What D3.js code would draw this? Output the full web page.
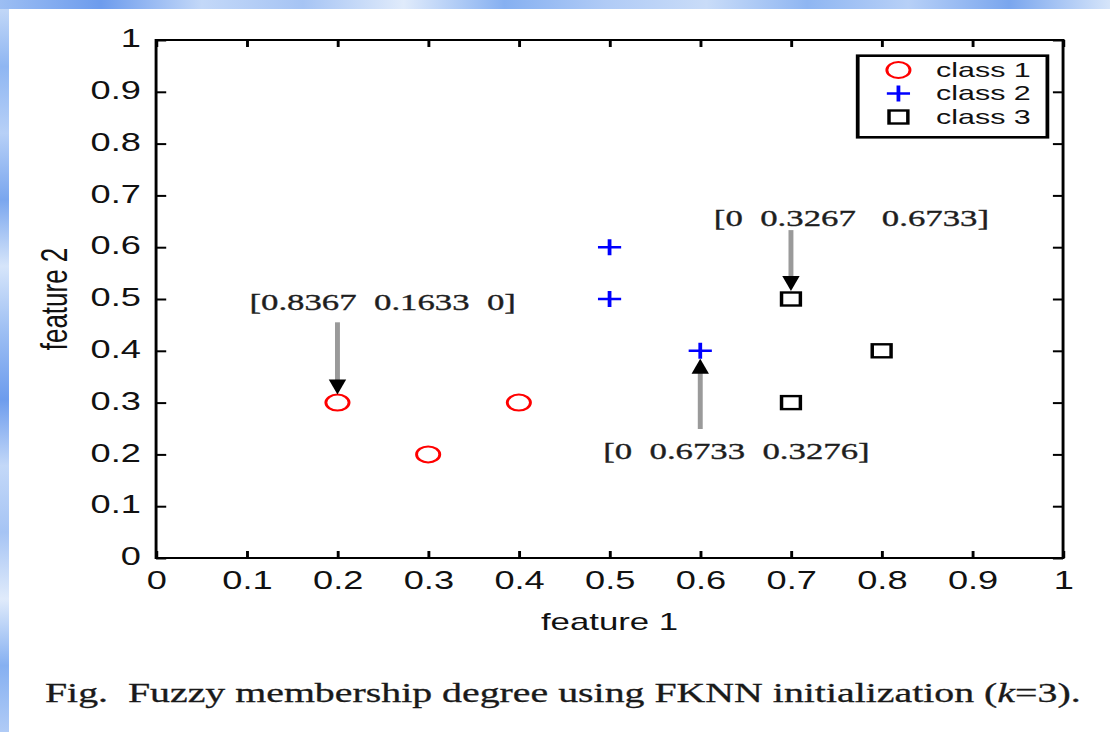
<!DOCTYPE html>
<html>
<head>
<meta charset="utf-8">
<script src="https://cdn.jsdelivr.net/npm/d3@7"></script>
<style>
  html, body { margin: 0; padding: 0; background: #fff; }
  svg { display: block; }
  .tick text { fill: #111; }
</style>
</head>
<body>
<div id="chart"></div>
<script>
// DATA
const xTicks = [0, 0.1, 0.2, 0.3, 0.4, 0.5, 0.6, 0.7, 0.8, 0.9, 1]
const yTicks = [0, 0.1, 0.2, 0.3, 0.4, 0.5, 0.6, 0.7, 0.8, 0.9, 1]
const classNames = ['class 1', 'class 2', 'class 3']
const class1X = [0.2, 0.3, 0.4]
const class1Y = [0.3, 0.2, 0.3]
const class2X = [0.5, 0.5, 0.6]
const class2Y = [0.6, 0.5, 0.4]
const class3X = [0.7, 0.7, 0.8]
const class3Y = [0.5, 0.3, 0.4]
// annotations: membership vectors, the point they point to, where the text sits (data units)
const annLabels = ['[0.8367  0.1633  0]', '[0  0.3267   0.6733]', '[0  0.6733  0.3276]']
const annPointX = [0.2, 0.7, 0.6]
const annPointY = [0.3, 0.5, 0.4]
const annTextX = [0.103, 0.615, 0.493]
const annTextY = [0.479, 0.641, 0.191]
const annTailY = [0.455, 0.633, 0.249]
const caption = ['Fig.  Fuzzy membership degree using FKNN initialization (', 'k', '=3).']

// CANVAS (the figure is stretched horizontally, like the picture)
const fullWidth = 1110
const fullHeight = 732
const viewWidth = 766
const margins = { left: 107.7, right: 32.4, top: 40, bottom: 174 }

const svg = d3.select('#chart')
  .append('svg')
  .attr('width', fullWidth)
  .attr('height', fullHeight)
  .attr('viewBox', `0 0 ${viewWidth} ${fullHeight}`)
  .attr('preserveAspectRatio', 'none')

// blue page texture on the top and left edges
const defs = svg.append('defs')
const gLeft = defs.append('linearGradient').attr('id', 'edgeLeft')
  .attr('x1', 0).attr('y1', 0).attr('x2', 0).attr('y2', 1)
const gTop = defs.append('linearGradient').attr('id', 'edgeTop')
  .attr('x1', 0).attr('y1', 0).attr('x2', 1).attr('y2', 0)
const edgeColors = ['#c9dcf8', '#8fb6f2', '#b7d0f7', '#7aa6ee', '#d6e5fa', '#9cbef3', '#6d9ced', '#c3d8f8', '#a6c4f4', '#e0ebfb', '#86b0f1', '#b0cbf6']
edgeColors.forEach((c, i) => {
  gLeft.append('stop').attr('offset', i / (edgeColors.length - 1)).attr('stop-color', c)
  gTop.append('stop').attr('offset', i / (edgeColors.length - 1)).attr('stop-color', edgeColors[(i + 5) % edgeColors.length])
})
svg.append('rect').attr('x', 0).attr('y', 0).attr('width', 6.2).attr('height', fullHeight).attr('fill', 'url(#edgeLeft)')
svg.append('rect').attr('x', 0).attr('y', 0).attr('width', viewWidth).attr('height', 9).attr('fill', 'url(#edgeTop)')

// SCALES
const x = d3.scaleLinear().domain([0, 1]).range([margins.left, viewWidth - margins.right])
const y = d3.scaleLinear().domain([0, 1]).range([fullHeight - margins.bottom, margins.top])
const fmt = d3.format('~g')

const axisFont = 'Liberation Sans, Arial, sans-serif'

function styleAxis(g) {
  g.attr('font-family', axisFont).attr('font-size', 25)
  g.selectAll('.domain').remove()
  g.selectAll('.tick line').attr('stroke', '#000').attr('stroke-width', 2)
}

svg.append('g')
  .attr('transform', `translate(0,${y(0)})`)
  .call(d3.axisBottom(x).tickValues(xTicks).tickFormat(fmt).tickSize(-7).tickPadding(13))
  .call(styleAxis)
svg.append('g')
  .attr('transform', `translate(0,${y(1)})`)
  .call(d3.axisTop(x).tickValues(xTicks).tickFormat('').tickSize(-7))
  .call(styleAxis)
svg.append('g')
  .attr('transform', `translate(${x(0)},0)`)
  .call(d3.axisLeft(y).tickValues(yTicks).tickFormat(fmt).tickSize(-7).tickPadding(10.5))
  .call(styleAxis)
  .call(g => g.selectAll('.tick text').attr('dy', '0.27em'))
svg.append('g')
  .attr('transform', `translate(${x(1)},0)`)
  .call(d3.axisRight(y).tickValues(yTicks).tickFormat('').tickSize(-7))
  .call(styleAxis)

// plot box
svg.append('rect')
  .attr('x', x(0)).attr('y', y(1))
  .attr('width', x(1) - x(0)).attr('height', y(0) - y(1))
  .attr('fill', 'none').attr('stroke', '#000').attr('stroke-width', 2)

// axis labels
svg.append('text')
  .attr('x', (x(0) + x(1)) / 2).attr('y', 630)
  .attr('text-anchor', 'middle')
  .attr('font-family', axisFont).attr('font-size', 24).attr('fill', '#111')
  .text('feature 1')
svg.append('text')
  .attr('transform', `translate(46,${(y(0) + y(1)) / 2}) rotate(-90)`)
  .attr('text-anchor', 'middle')
  .attr('font-family', axisFont).attr('font-size', 26).attr('fill', '#111')
  .text('feature 2')

// MARKERS
const circleR = 8
const plusR = 8
const squareS = 13

function drawCircle(g, cx, cy) {
  g.append('circle').attr('cx', cx).attr('cy', cy).attr('r', circleR)
    .attr('fill', 'none').attr('stroke', '#ff0000').attr('stroke-width', 2)
}
function drawPlus(g, cx, cy) {
  g.append('path')
    .attr('d', `M${cx - plusR},${cy}H${cx + plusR}M${cx},${cy - plusR}V${cy + plusR}`)
    .attr('stroke', '#0000ff').attr('stroke-width', 2.6).attr('fill', 'none')
}
function drawSquare(g, cx, cy) {
  g.append('rect').attr('x', cx - squareS / 2).attr('y', cy - squareS / 2)
    .attr('width', squareS).attr('height', squareS)
    .attr('fill', 'none').attr('stroke', '#000').attr('stroke-width', 2.4)
}
const drawers = [drawCircle, drawPlus, drawSquare]

const points = svg.append('g')
class1X.forEach((d, i) => drawCircle(points, x(d), y(class1Y[i])))
class2X.forEach((d, i) => drawPlus(points, x(d), y(class2Y[i])))
class3X.forEach((d, i) => drawSquare(points, x(d), y(class3Y[i])))

// ANNOTATIONS
const ann = svg.append('g')
annLabels.forEach((label, i) => {
  const px = x(annPointX[i])
  const py = y(annPointY[i])
  const down = annTailY[i] > annPointY[i]
  const tip = down ? py - 8 : py + 8
  const headLen = down ? -15 : 15
  const tail = y(annTailY[i])
  ann.append('line')
    .attr('x1', px).attr('x2', px)
    .attr('y1', tail).attr('y2', tip + headLen * 0.6)
    .attr('stroke', '#9a9a9a').attr('stroke-width', 3.4)
  ann.append('path')
    .attr('d', `M${px},${tip}L${px - 6},${tip + headLen}L${px + 6},${tip + headLen}Z`)
    .attr('fill', '#000')
  ann.append('text')
    .attr('x', x(annTextX[i])).attr('y', y(annTextY[i]))
    .attr('font-family', 'Liberation Serif, Times New Roman, serif')
    .attr('font-size', 24).attr('fill', '#1e1e1e')
    .attr('stroke', '#1e1e1e').attr('stroke-width', 0.35)
    .style('white-space', 'pre')
    .text(label)
})

// LEGEND
const legend = svg.append('g')
legend.append('rect')
  .attr('x', 591.9).attr('y', 55.7).attr('width', 130.9).attr('height', 81.6)
  .attr('fill', '#fff').attr('stroke', '#000').attr('stroke-width', 2.6)
classNames.forEach((name, i) => {
  const cy = 70 + i * 23.5
  drawers[i](legend, 620, cy)
  legend.append('text')
    .attr('x', 646).attr('y', cy + 7)
    .attr('font-family', axisFont).attr('font-size', 21).attr('fill', '#111')
    .text(name)
})

// CAPTION
const cap = svg.append('text')
  .attr('x', 31).attr('y', 702)
  .attr('font-family', 'Liberation Serif, Times New Roman, serif')
  .attr('font-size', 27.5).attr('fill', '#1a1a1a')
  .attr('stroke', '#1a1a1a').attr('stroke-width', 0.3)
  .style('white-space', 'pre')
caption.forEach((part, i) => {
  cap.append('tspan').style('font-style', i === 1 ? 'italic' : 'normal').text(part)
})
</script>
</body>
</html>
